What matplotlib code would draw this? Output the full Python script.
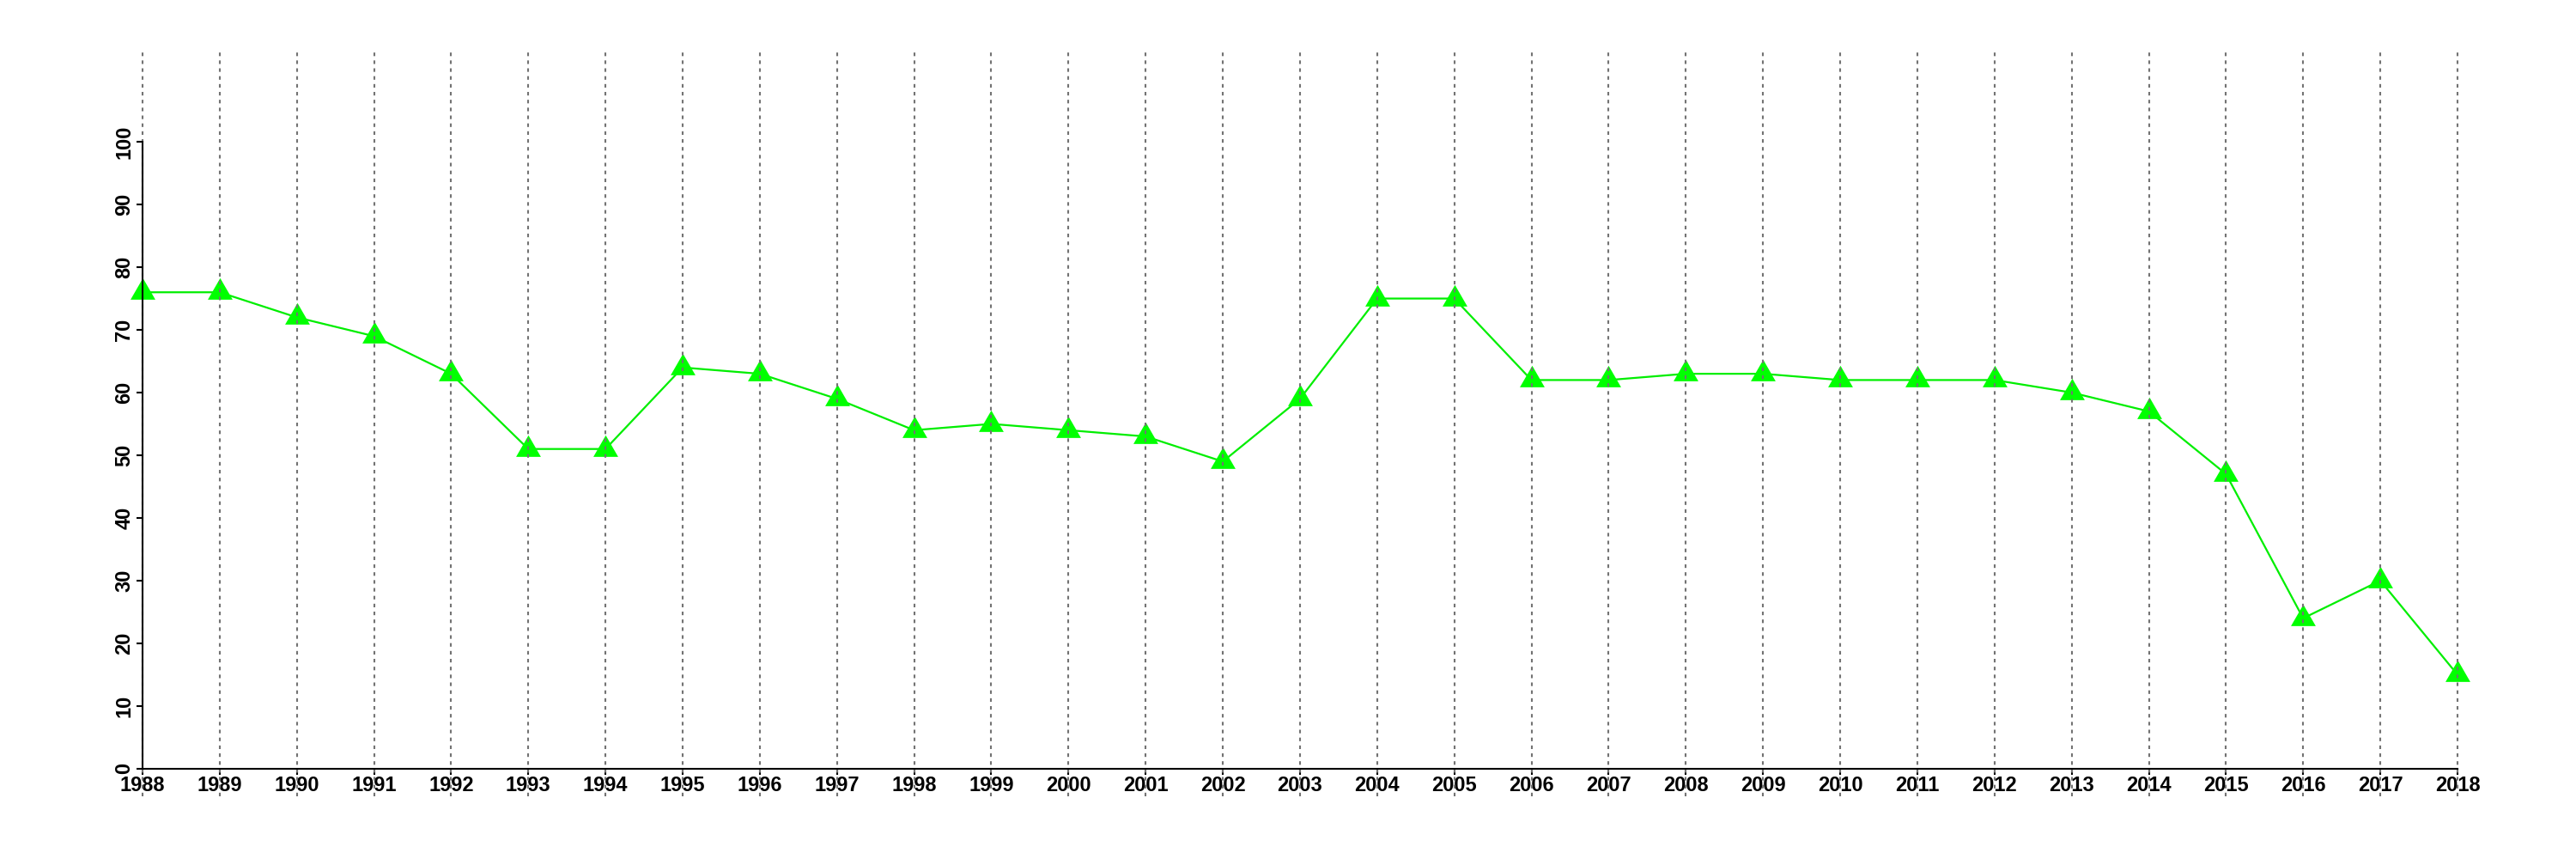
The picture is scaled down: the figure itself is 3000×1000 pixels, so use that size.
import matplotlib

matplotlib.use("Agg")
import matplotlib.pyplot as plt
import numpy as np

# Yearly values
years = list(range(1988, 2019))
values = [76, 76, 72, 69, 63, 51, 51, 64, 63, 59, 54, 55, 54, 53, 49,
          59, 75, 75, 62, 62, 63, 63, 62, 62, 62, 60, 57, 47, 24, 30, 15]
y_ticks = list(range(0, 101, 10))

plt.rcParams["font.family"] = ["Liberation Sans", "DejaVu Sans"]
plt.rcParams["font.weight"] = "bold"

fig = plt.figure(figsize=(30, 10), dpi=100)
ax = fig.add_axes([0.0553, 0.073, 0.954 - 0.0553, 0.94 - 0.073])

# equilateral triangle, centroid at origin (like R pch=17)
tri = [(0, 0.577), (-0.5, -0.289), (0.5, -0.289), (0, 0.577)]

ax.plot(years, values, color="#00ee00", lw=1.6, zorder=3, clip_on=False)
ax.plot(years, values, linestyle="none", marker=tri, markersize=24,
        markerfacecolor="#00ff00", markeredgewidth=0, zorder=4, clip_on=False)

# dotted vertical grid drawn on top, like abline(v=..., lty=3)
for yr in years:
    ax.axvline(yr, color="#737373", lw=1.5, linestyle=(0, (2, 2.4)),
               zorder=5, clip_on=False)

ax.set_xlim(1988, 2018)
ax.set_ylim(-4.4, 114.4)
ax.set_xticks(years)
ax.set_yticks(y_ticks)

for s in ["top", "right"]:
    ax.spines[s].set_visible(False)
ax.spines["bottom"].set_position(("data", 0))
ax.spines["bottom"].set_bounds(1988, 2018)
ax.spines["left"].set_bounds(0, 100)
ax.spines["left"].set_position(("data", 1988))
for s in ["bottom", "left"]:
    ax.spines[s].set_linewidth(1.5)
    ax.spines[s].set_zorder(6)

ax.tick_params(axis="both", direction="out", length=5, width=1.5,
               labelsize=17, color="black")
ax.tick_params(axis="x", pad=1)
ax.tick_params(axis="y", pad=2, labelrotation=90)
for lbl in ax.get_yticklabels():
    lbl.set_va("center")

plt.savefig("out.png", dpi=100)
plt.close()
